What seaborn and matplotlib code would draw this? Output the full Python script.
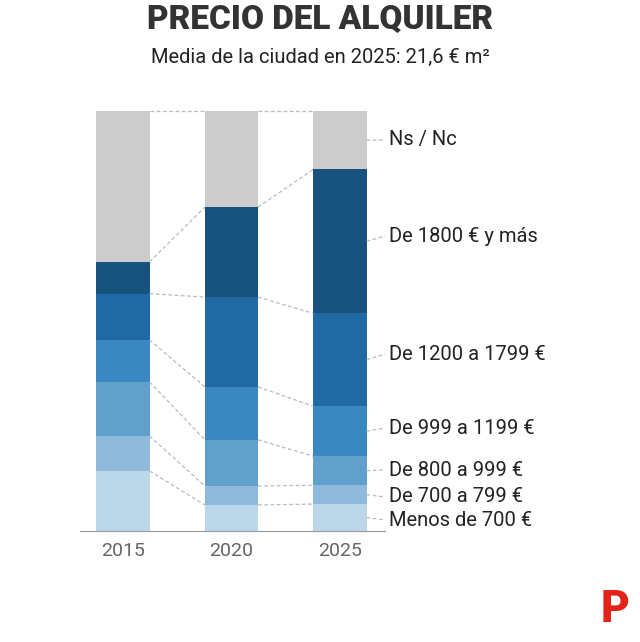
import matplotlib
matplotlib.use("Agg")
import matplotlib.pyplot as plt
import seaborn as sns
import numpy as np
import pandas as pd

years = ["2015", "2020", "2025"]
cats = ["Menos de 700 €", "De 700 a 799 €", "De 800 a 999 €", "De 999 a 1199 €",
        "De 1200 a 1799 €", "De 1800 € y más", "Ns / Nc"]
v2015 = [14.3, 8.3, 12.9, 10.0, 11.0, 7.6, 35.9]
v2020 = [6.2, 4.5, 11.0, 12.6, 21.4, 21.4, 22.9]
v2025 = [6.4, 4.5, 6.9, 11.9, 22.1, 34.3, 13.9]
colors = ["#bcd7ea", "#8fbadb", "#62a0cc", "#3a87c2", "#1f6aa5", "#16527c", "#cccccc"]
label_y_px = [520, 497, 470, 428, 354, 236, 140]

sns.set_style("white")
plt.rcParams['font.family'] = ['Roboto', 'DejaVu Sans']
W, H = 640, 642
fig = plt.figure(figsize=(6.4, 6.42), dpi=100)
ax = fig.add_axes([80 / W, 1 - 531 / H, 305 / W, 420 / H])

vals = np.array([v2015, v2020, v2025])
cum = np.cumsum(vals, axis=1)
for i in range(len(cats) - 1, -1, -1):
    df = pd.DataFrame({"year": years, "v": cum[:, i]})
    sns.barplot(data=df, x="year", y="v", color=colors[i], width=0.49,
                saturation=1, ax=ax, edgecolor="none")

hw = 0.245
for i in range(len(cats)):
    for j in range(2):
        ax.plot([j + hw, j + 1 - hw], [cum[j, i], cum[j + 1, i]],
                ls=(0, (3, 2)), color="#bbbbbb", lw=0.9, clip_on=False)

ax.set_xlim(-0.396, 2.415)
ax.set_ylim(0, 100)
ax.set_xlabel(""); ax.set_ylabel("")
ax.set_yticks([])
for s in ["top", "right", "left"]:
    ax.spines[s].set_visible(False)
ax.spines["bottom"].set_color("#999999")
ax.tick_params(axis="x", length=0, labelsize=14, labelcolor="#666666", pad=8)

for i, c in enumerate(cats):
    mid = cum[2, i] - vals[2, i] / 2
    ly = 100 * (531 - label_y_px[i]) / 420
    ax.plot([2 + hw, 2.415], [mid, ly], ls=(0, (3, 2)), color="#bbbbbb", lw=0.9, clip_on=False)
    ax.text(2.45, ly, c, va="center", ha="left", fontsize=14.5, color="#222222")

fig.text(0.5, 1 - 20 / H, "PRECIO DEL ALQUILER", ha="center", va="center",
         fontsize=24, fontweight="black", color="#333333")
fig.text(0.5, 1 - 57 / H, "Media de la ciudad en 2025: 21,6 € m²", ha="center",
         va="center", fontsize=14.5, color="#222222")
fig.text(615 / W, 1 - 610 / H, "P", ha="center", va="center", fontsize=32,
         fontweight="black", color="#e2231a")
fig.savefig("out.png", dpi=100)
